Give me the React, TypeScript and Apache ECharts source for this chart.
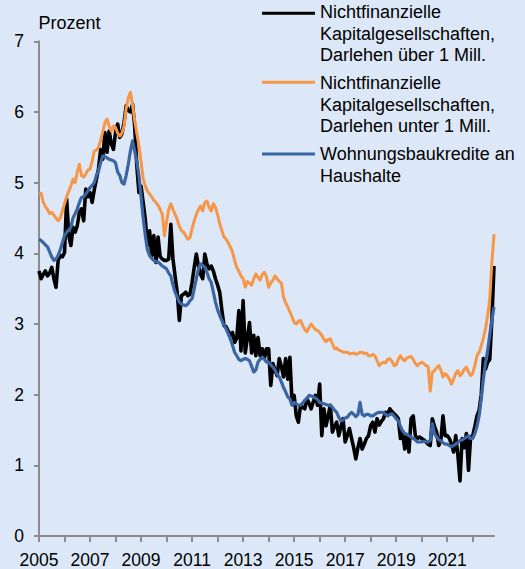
import React, { useEffect, useRef } from "react";
import * as echarts from "echarts";

// Monthly data, January 2005 to November 2022 (percent)
const startYear = 2005;

// Nichtfinanzielle Kapitalgesellschaften, Darlehen über 1 Mill.
const blackValues: number[] = [
  3.75, 3.64, 3.70, 3.75, 3.68, 3.72, 3.80, 3.64, 3.52, 3.90, 3.97, 3.95, // 2005
  4.01, 4.77, 4.25, 4.11, 4.37, 4.30, 4.39, 4.58, 4.63, 4.46, 4.91, 4.80, // 2006
  4.86, 4.72, 4.90, 5.05, 5.20, 5.47, 5.33, 5.71, 5.43, 5.73, 5.55, 5.47, // 2007
  5.71, 5.83, 5.64, 5.69, 5.85, 6.09, 6.02, 6.00, 6.11, 5.80, 5.24, 4.86, // 2008
  4.95, 4.72, 4.48, 4.11, 4.32, 3.97, 4.25, 3.87, 4.23, 3.95, 3.92, 3.90, // 2009
  3.90, 3.92, 4.41, 3.92, 3.68, 3.45, 3.05, 3.40, 3.42, 3.45, 3.40, 3.42, // 2010
  3.59, 3.80, 3.99, 3.82, 3.70, 3.64, 3.99, 3.85, 3.78, 3.82, 3.75, 3.64, // 2011
  3.55, 3.45, 3.20, 2.98, 2.96, 2.90, 2.84, 2.88, 2.74, 2.80, 3.19, 2.62, // 2012
  3.33, 2.59, 2.80, 3.02, 2.59, 2.84, 2.55, 2.81, 2.55, 2.65, 2.51, 2.65, // 2013
  2.65, 2.13, 2.44, 2.35, 2.27, 2.51, 2.40, 2.25, 2.51, 2.22, 2.53, 1.89, // 2014
  1.99, 1.70, 1.61, 1.85, 1.82, 1.80, 1.94, 1.88, 1.80, 1.90, 1.99, 1.85, // 2015
  2.15, 1.42, 1.80, 1.56, 1.70, 1.85, 1.47, 1.55, 1.61, 1.42, 1.55, 1.66, // 2016
  1.33, 1.42, 1.52, 1.38, 1.25, 1.09, 1.25, 1.38, 1.23, 1.30, 1.38, 1.42, // 2017
  1.56, 1.61, 1.47, 1.66, 1.57, 1.62, 1.66, 1.75, 1.72, 1.80, 1.76, 1.73, // 2018
  1.70, 1.66, 1.38, 1.47, 1.23, 1.42, 1.19, 1.66, 1.70, 1.42, 1.38, 1.40, // 2019
  1.38, 1.36, 1.33, 1.30, 1.28, 1.66, 1.55, 1.47, 1.28, 1.35, 1.70, 1.42, // 2020
  1.42, 1.38, 1.30, 1.19, 1.42, 1.15, 0.78, 1.38, 1.25, 1.45, 0.93, 1.40, // 2021
  1.42, 1.55, 1.70, 1.78, 2.00, 2.51, 2.36, 2.46, 2.50, 3.07, 3.82, // 2022
];

// Nichtfinanzielle Kapitalgesellschaften, Darlehen unter 1 Mill.
const orangeValues: number[] = [
  4.84, 4.85, 4.72, 4.66, 4.62, 4.56, 4.58, 4.54, 4.50, 4.46, 4.50, 4.60, // 2005
  4.70, 4.80, 4.88, 4.95, 5.05, 5.00, 5.15, 5.26, 5.10, 5.08, 5.12, 5.18, // 2006
  5.19, 5.30, 5.45, 5.46, 5.50, 5.60, 5.72, 5.85, 5.90, 5.80, 5.73, 5.80, // 2007
  5.78, 5.70, 5.66, 5.70, 5.80, 6.05, 6.20, 6.28, 6.10, 5.88, 5.70, 5.52, // 2008
  5.30, 5.05, 4.95, 4.88, 4.84, 4.80, 4.75, 4.72, 4.68, 4.62, 4.55, 4.25, // 2009
  4.45, 4.62, 4.70, 4.62, 4.55, 4.48, 4.38, 4.32, 4.30, 4.25, 4.20, 4.22, // 2010
  4.35, 4.46, 4.55, 4.62, 4.67, 4.60, 4.72, 4.74, 4.65, 4.60, 4.70, 4.65, // 2011
  4.55, 4.42, 4.32, 4.23, 4.20, 4.15, 4.09, 4.02, 3.90, 3.80, 3.75, 3.68, // 2012
  3.64, 3.52, 3.60, 3.58, 3.55, 3.64, 3.71, 3.66, 3.62, 3.70, 3.73, 3.67, // 2013
  3.52, 3.58, 3.62, 3.68, 3.64, 3.60, 3.58, 3.38, 3.30, 3.24, 3.17, 3.10, // 2014
  3.02, 3.00, 3.04, 3.05, 2.98, 2.92, 2.89, 2.95, 3.00, 2.96, 2.92, 2.91, // 2015
  2.88, 2.84, 2.78, 2.75, 2.78, 2.79, 2.72, 2.65, 2.66, 2.63, 2.62, 2.60, // 2016
  2.60, 2.60, 2.58, 2.58, 2.59, 2.57, 2.58, 2.60, 2.60, 2.58, 2.59, 2.55, // 2017
  2.55, 2.57, 2.55, 2.48, 2.41, 2.44, 2.46, 2.45, 2.50, 2.51, 2.47, 2.41, // 2018
  2.42, 2.50, 2.55, 2.50, 2.48, 2.52, 2.53, 2.54, 2.50, 2.44, 2.41, 2.44, // 2019
  2.46, 2.44, 2.41, 2.40, 2.05, 2.32, 2.34, 2.38, 2.41, 2.35, 2.25, 2.30, // 2020
  2.27, 2.22, 2.15, 2.22, 2.30, 2.34, 2.27, 2.30, 2.36, 2.39, 2.32, 2.27, // 2021
  2.30, 2.41, 2.55, 2.60, 2.69, 2.80, 2.93, 3.12, 3.35, 3.87, 4.27, // 2022
];

// Wohnungsbaukredite an Haushalte
const blueValues: number[] = [
  4.20, 4.18, 4.15, 4.12, 4.09, 4.02, 3.95, 3.90, 3.92, 3.97, 4.05, 4.15, // 2005
  4.25, 4.30, 4.33, 4.37, 4.50, 4.56, 4.63, 4.72, 4.79, 4.80, 4.84, 4.88, // 2006
  4.93, 4.96, 5.00, 5.10, 5.17, 5.28, 5.38, 5.37, 5.35, 5.33, 5.32, 5.31, // 2007
  5.28, 5.15, 5.10, 5.00, 4.98, 5.10, 5.26, 5.45, 5.59, 5.45, 5.30, 5.10, // 2008
  4.80, 4.50, 4.25, 4.05, 3.97, 3.93, 3.90, 3.88, 3.88, 3.85, 3.82, 3.80, // 2009
  3.78, 3.72, 3.68, 3.55, 3.45, 3.38, 3.31, 3.28, 3.27, 3.26, 3.28, 3.33, // 2010
  3.36, 3.50, 3.64, 3.78, 3.85, 3.83, 3.80, 3.73, 3.64, 3.59, 3.45, 3.31, // 2011
  3.20, 3.12, 3.05, 2.98, 2.93, 2.86, 2.79, 2.70, 2.60, 2.55, 2.50, 2.48, // 2012
  2.50, 2.51, 2.50, 2.48, 2.40, 2.32, 2.35, 2.46, 2.50, 2.53, 2.50, 2.46, // 2013
  2.46, 2.42, 2.39, 2.35, 2.29, 2.25, 2.18, 2.10, 2.04, 1.97, 1.94, 1.85, // 2014
  1.89, 1.87, 1.85, 1.85, 1.88, 1.92, 1.95, 1.99, 1.98, 1.97, 1.95, 1.93, // 2015
  1.89, 1.88, 1.87, 1.86, 1.85, 1.85, 1.82, 1.78, 1.75, 1.68, 1.63, 1.64, // 2016
  1.67, 1.68, 1.72, 1.75, 1.72, 1.69, 1.72, 1.89, 1.72, 1.70, 1.72, 1.72, // 2017
  1.70, 1.70, 1.72, 1.74, 1.75, 1.75, 1.75, 1.72, 1.70, 1.72, 1.73, 1.70, // 2018
  1.66, 1.63, 1.55, 1.49, 1.45, 1.44, 1.42, 1.40, 1.38, 1.36, 1.33, 1.33, // 2019
  1.33, 1.34, 1.33, 1.33, 1.35, 1.59, 1.45, 1.40, 1.36, 1.35, 1.32, 1.30, // 2020
  1.30, 1.28, 1.26, 1.28, 1.30, 1.32, 1.35, 1.36, 1.38, 1.40, 1.42, 1.38, // 2021
  1.38, 1.45, 1.55, 1.70, 1.95, 2.22, 2.45, 2.62, 2.85, 3.05, 3.24, // 2022
];

const seriesNames = [
  "Nichtfinanzielle\nKapitalgesellschaften,\nDarlehen über 1 Mill.",
  "Nichtfinanzielle\nKapitalgesellschaften,\nDarlehen unter 1 Mill.",
  "Wohnungsbaukredite an\nHaushalte",
];
const seriesColors = ["#000000", "#f79646", "#3a65a2"];
const seriesWidths = [3.6, 3, 3.2];
const xLabelYears = ["2005", "2007", "2009", "2011", "2013", "2015", "2017", "2019", "2021"];
const yAxisTitle = "Prozent";

const categories: string[] = blackValues.map((_, i) => {
  const y = startYear + Math.floor(i / 12);
  const m = (i % 12) + 1;
  return `${y}-${m < 10 ? "0" + m : m}`;
});

const BG = "#dce8f7";
const FONT = '"Liberation Sans", Arial, Helvetica, sans-serif';
const AXIS_GRAY = "#8c8c8c";

export default function App() {
  const ref = useRef<HTMLDivElement>(null);

  useEffect(() => {
    document.body.style.margin = "0";
    document.body.style.background = BG;
    if (!ref.current) return;
    const chart = echarts.init(ref.current, null, { renderer: "svg" });

    const legendTops = [1.2, 72.2, 143];
    const legendLineY = [13.3, 82.3, 154];
    const legendGraphics: any[] = [];
    seriesNames.forEach((name, i) => {
      legendGraphics.push({
        type: "line",
        shape: { x1: 262, y1: legendLineY[i], x2: 315, y2: legendLineY[i] },
        style: { stroke: seriesColors[i], lineWidth: 3 },
      });
      legendGraphics.push({
        type: "text",
        x: 320,
        y: legendTops[i],
        style: {
          text: name,
          fill: "#000",
          fontSize: 18,
          fontFamily: FONT,
          lineHeight: 21.7,
          align: "left",
          verticalAlign: "top",
        },
      });
    });

    chart.setOption({
      animation: false,
      backgroundColor: BG,
      grid: { left: 39, right: 31, top: 41.3, bottom: 31.7, containLabel: false },
      xAxis: {
        type: "category",
        data: categories,
        boundaryGap: false,
        axisLine: { show: true, lineStyle: { color: AXIS_GRAY, width: 2 } },
        axisTick: {
          show: true,
          inside: false,
          length: 6,
          interval: (_i: number, v: string) => v.endsWith("-01"),
          lineStyle: { color: AXIS_GRAY, width: 2 },
        },
        axisLabel: {
          interval: (_i: number, v: string) =>
            v.endsWith("-01") && xLabelYears.includes(v.slice(0, 4)),
          formatter: (v: string) => v.slice(0, 4),
          color: "#000",
          fontSize: 17.5,
          fontFamily: FONT,
          margin: 15,
        },
        splitLine: { show: false },
      },
      yAxis: {
        type: "value",
        min: 0,
        max: 7,
        interval: 1,
        axisLine: { show: true, lineStyle: { color: AXIS_GRAY, width: 2 } },
        axisTick: { show: true, inside: false, length: 5, lineStyle: { color: AXIS_GRAY, width: 2 } },
        axisLabel: { color: "#000", fontSize: 17.5, fontFamily: FONT, margin: 15 },
        splitLine: { show: false },
      },
      graphic: [
        {
          type: "text",
          x: 38.5,
          y: 22.7,
          style: {
            text: yAxisTitle,
            fill: "#000",
            fontSize: 18,
            fontFamily: FONT,
            align: "left",
            verticalAlign: "middle",
          },
        },
        ...legendGraphics,
      ],
      series: [blackValues, orangeValues, blueValues].map((vals, i) => ({
        name: seriesNames[i],
        type: "line",
        data: vals,
        showSymbol: false,
        symbol: "none",
        lineStyle: { color: seriesColors[i], width: seriesWidths[i], join: "round" },
        itemStyle: { color: seriesColors[i] },
        z: 2 + i,
      })),
    });

    return () => chart.dispose();
  }, []);

  return <div ref={ref} style={{ width: 525, height: 569 }} />;
}
